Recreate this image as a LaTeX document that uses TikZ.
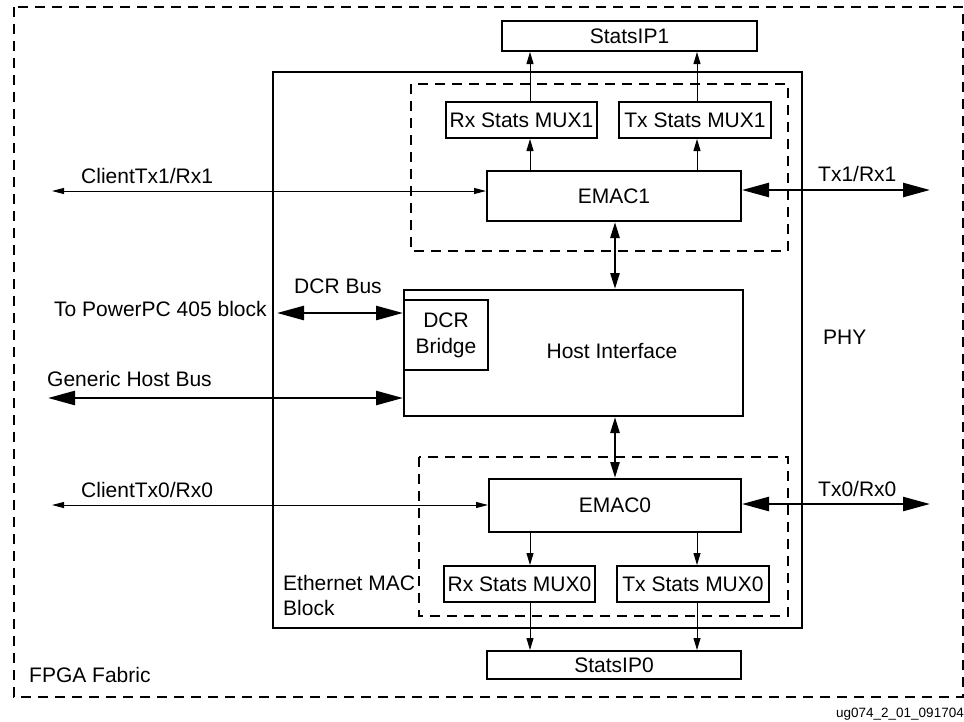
\documentclass[tikz,border=0pt]{standalone}
\usepackage{fontspec}
\setmainfont{Liberation Sans}
\usetikzlibrary{arrows.meta}
\begin{document}
\begin{tikzpicture}[x=1pt,y=-1pt,
  font=\fontsize{21}{25}\selectfont,
  box/.style={draw, line width=2pt, inner sep=0pt, anchor=center},
  lbl/.style={inner sep=0pt, anchor=base west},
  dsh/.style={line width=1.2pt, dash pattern=on 10pt off 7pt},
  sarrow/.style={line width=1pt, -{Triangle[length=12pt,width=7pt]}},
  sdouble/.style={line width=1pt, {Triangle[length=12pt,width=6pt]}-{Triangle[length=12pt,width=6pt]}},
  bdouble/.style={line width=2.5pt, {Triangle[length=27pt,width=14pt]}-{Triangle[length=27pt,width=14pt]}},
  mdouble/.style={line width=2.5pt, {Triangle[length=16pt,width=9pt]}-{Triangle[length=16pt,width=9pt]}}
]
\useasboundingbox (0,0) rectangle (964,721);
% frames
\draw[dsh] (14,7) rectangle (963,697);
\draw[line width=1.2pt] (273,72) rectangle (802,628);
\draw[dsh] (411,84) rectangle (788,251);
\draw[dsh] (419,457) rectangle (788,616);
% boxes
\node[box, minimum width=255pt, minimum height=30pt] (sip1) at (629.5,36) {StatsIP1};
\node[box, minimum width=151pt, minimum height=36pt] (rx1) at (521.5,120) {Rx Stats MUX1};
\node[box, minimum width=152pt, minimum height=36pt] (tx1) at (695,120) {Tx Stats MUX1};
\node[box, minimum width=254pt, minimum height=50pt] (emac1) at (614,196) {EMAC1};
\node[box, minimum width=339pt, minimum height=126pt] (host) at (573.5,353) {};
\node[box, minimum width=84pt, minimum height=70pt, align=center] (dcr) at (446,335) {DCR\\[1pt]Bridge};
\node[box, minimum width=252pt, minimum height=53pt] (emac0) at (615,505.5) {EMAC0};
\node[box, minimum width=151pt, minimum height=36pt] (rx0) at (519.5,584) {Rx Stats MUX0};
\node[box, minimum width=152pt, minimum height=36pt] (tx0) at (693,584) {Tx Stats MUX0};
\node[box, minimum width=254pt, minimum height=28pt] (sip0) at (614,665) {StatsIP0};
\node[inner sep=0pt, anchor=base] (hostlbl) at (612,358) {Host Interface};
% helper coordinates
\coordinate (xr) at (530,0);
\coordinate (xt) at (697,0);
\coordinate (xv) at (615,0);
\coordinate (y1) at (0,191);
\coordinate (y0) at (0,505);
\coordinate (ct1) at (52,191);
\coordinate (ph1) at (930,190);
\coordinate (ct0) at (52,505);
\coordinate (ph0) at (930,504);
\coordinate (ppc) at (277,313);
\coordinate (ghb) at (48,398);
% connectors
\draw[sarrow] (rx1.north -| xr) -- (sip1.south -| xr);
\draw[sarrow] (tx1.north -| xt) -- (sip1.south -| xt);
\draw[sarrow] (emac1.north -| xr) -- (rx1.south -| xr);
\draw[sarrow] (emac1.north -| xt) -- (tx1.south -| xt);
\draw[sarrow] (emac0.south -| xr) -- (rx0.north -| xr);
\draw[sarrow] (emac0.south -| xt) -- (tx0.north -| xt);
\draw[sarrow] (rx0.south -| xr) -- (sip0.north -| xr);
\draw[sarrow] (tx0.south -| xt) -- (sip0.north -| xt);
\draw[mdouble] (emac1.south -| xv) -- (host.north -| xv);
\draw[mdouble] (host.south -| xv) -- (emac0.north -| xv);
\draw[sdouble] (ct1) -- (emac1.west |- ct1);
\draw[bdouble] (emac1.east |- ph1) -- (ph1);
\draw[sdouble] (ct0) -- (emac0.west |- ct0);
\draw[bdouble] (emac0.east |- ph0) -- (ph0);
\draw[bdouble] (ppc) -- (dcr.west |- ppc);
\draw[bdouble] (ghb) -- (host.west |- ghb);
% labels
\node[lbl] (l1) at (81,183) {ClientTx1/Rx1};
\node[lbl] (l2) at (818,181) {Tx1/Rx1};
\node[lbl] (l3) at (294,293) {DCR Bus};
\node[lbl] (l4) at (54,316) {To PowerPC 405 block};
\node[lbl] (l5) at (47,386) {Generic Host Bus};
\node[lbl] (l6) at (81,497) {ClientTx0/Rx0};
\node[lbl] (l7) at (818,496) {Tx0/Rx0};
\node[lbl] (l8) at (283,590) {Ethernet MAC};
\node[lbl] (l9) at (283,615) {Block};
\node[lbl] (l10) at (29,682) {FPGA Fabric};
\node[lbl] (l11) at (823,344) {PHY};
\node[inner sep=0pt, anchor=base east, font=\fontsize{13.5}{16}\selectfont] (l12) at (964,717) {ug074\_2\_01\_091704};
\end{tikzpicture}
\end{document}
